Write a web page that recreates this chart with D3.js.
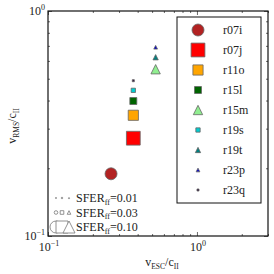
<!DOCTYPE html>
<html>
<head>
<meta charset="utf-8">
<script src="https://cdn.jsdelivr.net/npm/d3@7/dist/d3.min.js"></script>
<style>
  body { margin: 0; background: #fff; }
  text { font-family: "Liberation Serif", "DejaVu Serif", serif; fill: #222; }
</style>
</head>
<body>
<svg id="chart" width="274" height="274"></svg>
<script>
// runs, in legend order
const runs = ["r07i", "r07j", "r11o", "r15l", "r15m", "r19s", "r19t", "r23p", "r23q"];
const vEsc = [0.265, 0.374, 0.374, 0.374, 0.528, 0.374, 0.528, 0.528, 0.374];
const vRms = [0.189, 0.272, 0.344, 0.398, 0.551, 0.444, 0.623, 0.690, 0.490];
const sfe  = [0.100, 0.115, 0.085, 0.058, 0.078, 0.036, 0.044, 0.031, 0.017];

const sfeLegend = [0.01, 0.03, 0.10];
const sfeLegendLabels = ["0.01", "0.03", "0.10"];
const xDomain = [0.1, 3];
const yDomain = [0.1, 1];

// marker style per run
const style = {
    r07i: {shape: "o", fill: "#b22222"},
    r07j: {shape: "s", fill: "#ff0000"},
    r11o: {shape: "s", fill: "#ffa500"},
    r15l: {shape: "s", fill: "#006400"},
    r15m: {shape: "^", fill: "#90ee90"},
    r19s: {shape: "s", fill: "#00ced1"},
    r19t: {shape: "^", fill: "#008080"},
    r23p: {shape: "^", fill: "#0000cd"},
    r23q: {shape: "s", fill: "#2a0a3a"}
};

const svg = d3.select("#chart");
const mLeft = 48, mRight = 268, mTop = 11, mBottom = 236;

const x = d3.scaleLog().domain(xDomain).range([mLeft, mRight]);
const y = d3.scaleLog().domain(yDomain).range([mBottom, mTop]);
// marker size (px) grows with SFE
const size = d3.scaleLinear().domain([0, 0.1]).range([0, 12]);

function markerPath(shape, s) {
    let h = s / 2;
    if (shape === "o") {
        let p = d3.path();
        p.arc(0, 0, h, 0, 2 * Math.PI);
        p.closePath();
        return p.toString();
    }
    if (shape === "s") return "M" + (-h) + "," + (-h) + "h" + s + "v" + s + "h" + (-s) + "Z";
    return "M0," + (-h) + "L" + h + "," + h + "L" + (-h) + "," + h + "Z";
}

// ticks (inward, all four sides)
let isMajor = d => Math.abs(Math.log10(d) - Math.round(Math.log10(d))) < 1e-6;
let xMinor = x.ticks().filter(d => !isMajor(d)), xMajor = x.ticks().filter(isMajor);
let yMinor = y.ticks().filter(d => !isMajor(d)), yMajor = y.ticks().filter(isMajor);

function addAxis(axis, tx, ty) {
    let g = svg.append("g").attr("transform", "translate(" + tx + "," + ty + ")").call(axis);
    g.select(".domain").remove();
    g.selectAll("line").attr("stroke", "#444").attr("stroke-width", 0.8);
}
addAxis(d3.axisBottom(x).tickValues(xMinor).tickSize(-2).tickFormat(""), 0, mBottom);
addAxis(d3.axisBottom(x).tickValues(xMajor).tickSize(-4).tickFormat(""), 0, mBottom);
addAxis(d3.axisTop(x).tickValues(xMinor).tickSize(-2).tickFormat(""), 0, mTop);
addAxis(d3.axisTop(x).tickValues(xMajor).tickSize(-4).tickFormat(""), 0, mTop);
addAxis(d3.axisLeft(y).tickValues(yMinor).tickSize(-2).tickFormat(""), mLeft, 0);
addAxis(d3.axisLeft(y).tickValues(yMajor).tickSize(-4).tickFormat(""), mLeft, 0);
addAxis(d3.axisRight(y).tickValues(yMinor).tickSize(-2).tickFormat(""), mRight, 0);
addAxis(d3.axisRight(y).tickValues(yMajor).tickSize(-4).tickFormat(""), mRight, 0);

svg.append("rect")
    .attr("x", mLeft).attr("y", mTop)
    .attr("width", mRight - mLeft).attr("height", mBottom - mTop)
    .attr("fill", "none").attr("stroke", "#111").attr("stroke-width", 1.2);

// tick labels 10^n
function powLabel(px, py, exp, anchor) {
    let t = svg.append("text").attr("x", px).attr("y", py)
        .attr("text-anchor", anchor).attr("font-size", 12);
    t.append("tspan").text("10");
    t.append("tspan").attr("dy", -5).attr("font-size", 8).text(exp);
}
xMajor.forEach(d => powLabel(x(d) + 1, 251, Math.round(Math.log10(d)) < 0 ? "\u22121" : "0", "middle"));
yMajor.forEach(d => powLabel(mLeft - 3, y(d) + 4, Math.round(Math.log10(d)) < 0 ? "\u22121" : "0", "end"));

// axis titles
function ratioLabel(g, a, b) {
    let t = g.append("text").attr("font-size", 12).attr("text-anchor", "middle");
    t.append("tspan").text("v");
    t.append("tspan").attr("dy", 2.5).attr("font-size", 7.5).text(a);
    t.append("tspan").attr("dy", -2.5).text("/c");
    t.append("tspan").attr("dy", 2.5).attr("font-size", 7.5).text(b);
}
ratioLabel(svg.append("g").attr("transform", "translate(162,266)"), "ESC", "II");
ratioLabel(svg.append("g").attr("transform", "translate(16,126) rotate(-90)"), "RMS", "II");

// data points
svg.append("g").selectAll("path")
    .data(runs)
    .join("path")
    .attr("transform", (d, i) => "translate(" + x(vEsc[i]) + "," + y(vRms[i]) + ")")
    .attr("d", (d, i) => markerPath(style[d].shape, size(sfe[i])))
    .attr("fill", d => style[d].fill)
    .attr("stroke", "#666").attr("stroke-width", 0.8);

// run legend
let leg = svg.append("g");
leg.append("rect").attr("x", 177).attr("y", 17).attr("width", 84).attr("height", 186)
    .attr("fill", "#fff").attr("stroke", "#111").attr("stroke-width", 1);
let item = leg.selectAll("g.item").data(runs).join("g")
    .attr("class", "item")
    .attr("transform", (d, i) => "translate(0," + (30 + 20 * i) + ")");
item.append("path")
    .attr("transform", "translate(198,0)")
    .attr("d", (d, i) => markerPath(style[d].shape, size(sfe[i])))
    .attr("fill", d => style[d].fill)
    .attr("stroke", "#666").attr("stroke-width", 0.8);
item.append("text").attr("x", 223).attr("y", 4).attr("font-size", 12).text(d => d);

// SFE size legend
let sl = svg.append("g").selectAll("g").data(sfeLegend).join("g")
    .attr("transform", (d, i) => "translate(0," + [198, 212.5, 227][i] + ")");
["o", "s", "^"].forEach((shape, k) => {
    sl.append("path")
        .attr("transform", "translate(" + [56, 62, 69][k] + ",0)")
        .attr("d", d => markerPath(shape, size(d)))
        .attr("fill", "#fff").attr("stroke", "#777").attr("stroke-width", 0.8);
});
let st = sl.append("text").attr("x", 76).attr("y", 4).attr("font-size", 12);
st.append("tspan").text("SFER");
st.append("tspan").attr("dy", 2.5).attr("font-size", 8).text("ff");
st.append("tspan").attr("dy", -2.5).text((d, i) => "=" + sfeLegendLabels[i]);
</script>
</body>
</html>
